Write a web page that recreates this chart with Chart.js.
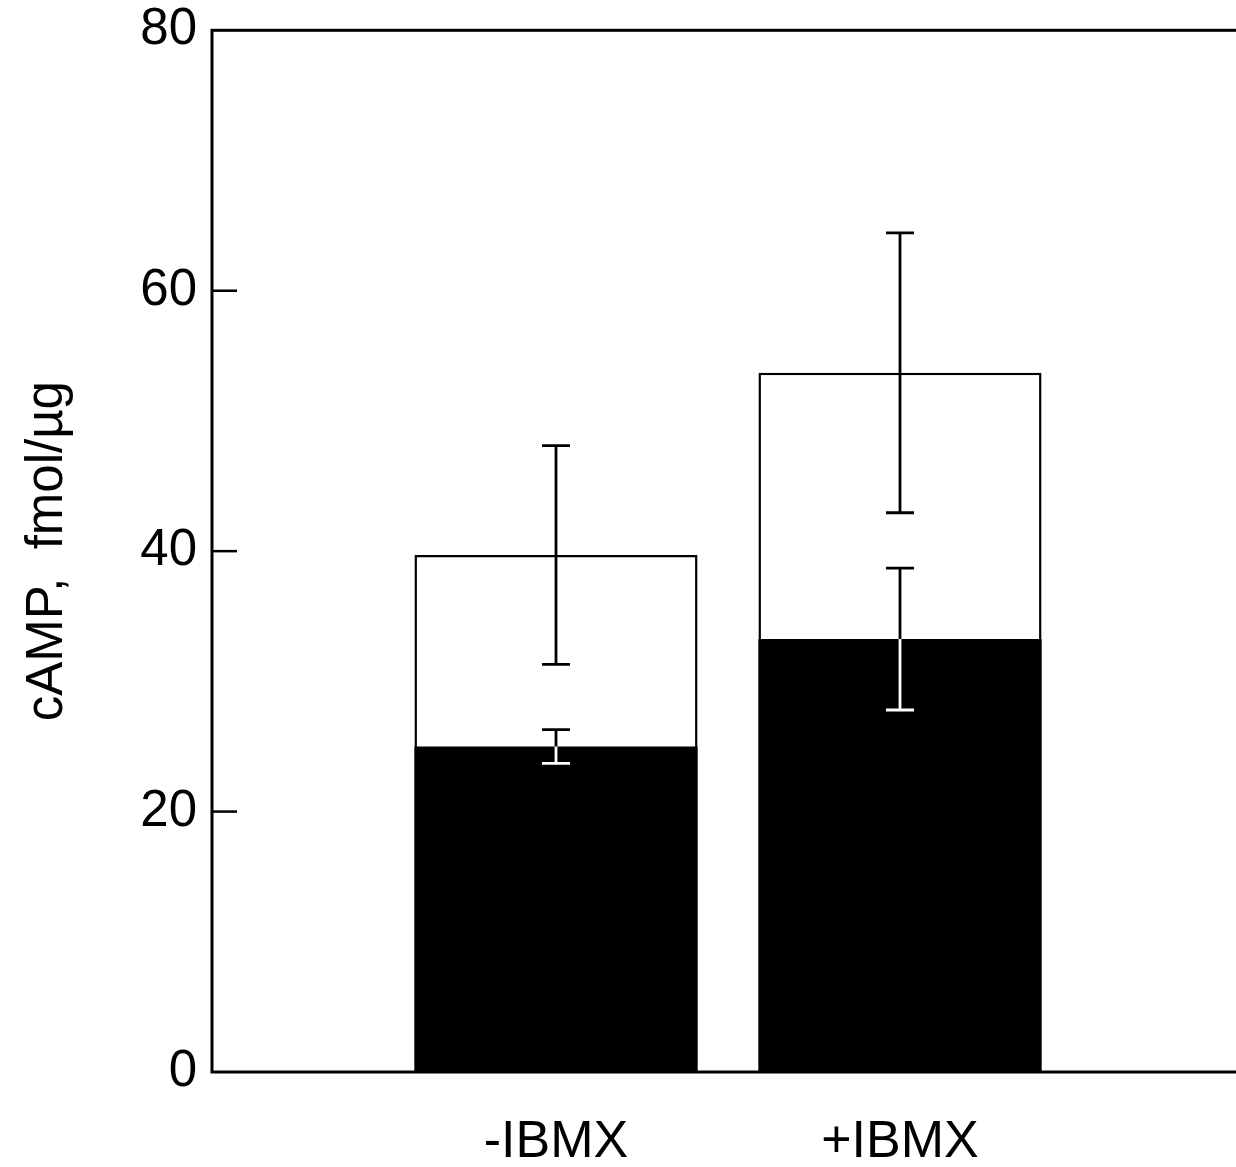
<!DOCTYPE html>
<html>
<head>
<meta charset="utf-8">
<script src="https://cdn.jsdelivr.net/npm/chart.js@4.4.0/dist/chart.umd.min.js"></script>
<style>
  html, body { margin: 0; padding: 0; background: #fff; overflow: hidden; }
  #wrap { width: 1236px; height: 1167px; overflow: hidden; }
  canvas { display: block; }
</style>
</head>
<body>
<div id="wrap"><canvas id="chart" width="1260" height="1167"></canvas></div>
<script>
// categories (empty ones at both ends keep the bars where they sit in the figure)
const labels = ['', '-IBMX', '+IBMX', ''];
// open bars (total) and filled bars, cAMP fmol/ug
const openVals = [null, 39.7, 53.7, null];
const openErr = [null, 8.4, 10.75, null];
const filledVals = [null, 25.0, 33.25, null];
const filledErr = [null, 1.3, 5.45, null];
const yTicks = [0, 20, 40, 60, 80];

const FONT = 'Liberation Sans, Arial, Helvetica, sans-serif';

// white page under the chart, so "difference" below works
const paper = {
  id: 'paper',
  beforeDraw(chart) {
    const c = chart.ctx;
    c.save();
    c.fillStyle = '#fff';
    c.fillRect(0, 0, chart.width, chart.height);
    c.restore();
  }
};

// error bars; the ones on the filled bars use "difference" so they turn white inside black
const errorBars = {
  id: 'errorBars',
  afterDatasetsDraw(chart) {
    const c = chart.ctx;
    const y = chart.scales.y;
    const errs = [filledErr, openErr];
    chart.data.datasets.forEach((ds, di) => {
      const meta = chart.getDatasetMeta(di);
      c.save();
      if (di === 0) {
        c.globalCompositeOperation = 'difference';
        c.strokeStyle = '#fff';
      } else {
        c.strokeStyle = '#000';
      }
      c.lineWidth = 2.8;
      ds.data.forEach((v, i) => {
        if (v == null) return;
        const e = errs[di][i];
        const x = meta.data[i].x;
        const top = y.getPixelForValue(v + e);
        const bot = y.getPixelForValue(v - e);
        c.beginPath();
        c.moveTo(x, top); c.lineTo(x, bot);
        c.moveTo(x - 14, top); c.lineTo(x + 14, top);
        c.moveTo(x - 14, bot); c.lineTo(x + 14, bot);
        c.stroke();
      });
      c.restore();
    });
  }
};

// box round the plot and inward ticks on the y axis
const frame = {
  id: 'frame',
  afterDraw(chart) {
    const c = chart.ctx;
    const a = chart.chartArea;
    const y = chart.scales.y;
    c.save();
    c.strokeStyle = '#000';
    c.lineWidth = 3;
    c.strokeRect(a.left, a.top, a.right - a.left, a.bottom - a.top);
    c.lineWidth = 2.5;
    y.ticks.forEach(t => {
      if (t.value === 0 || t.value === 80) return;
      const py = y.getPixelForValue(t.value);
      c.beginPath();
      c.moveTo(a.left, py);
      c.lineTo(a.left + 25, py);
      c.stroke();
    });
    c.restore();
  }
};

new Chart(document.getElementById('chart'), {
  type: 'bar',
  data: {
    labels: labels,
    datasets: [{
      label: 'filled',
      data: filledVals,
      backgroundColor: '#000',
      borderWidth: 0
    }, {
      label: 'open',
      data: openVals,
      backgroundColor: '#fff',
      borderColor: '#000',
      borderWidth: 2.5
    }]
  },
  options: {
    responsive: false,
    animation: false,
    devicePixelRatio: 1,
    layout: { padding: { top: 0, right: 16, left: 0, bottom: 0 } },
    datasets: { bar: { barPercentage: 0.823, categoryPercentage: 1.0 } },
    plugins: { legend: { display: false }, tooltip: { enabled: false } },
    scales: {
      x: {
        stacked: true,
        offset: false,
        grid: { display: false, drawTicks: false },
        border: { display: false },
        ticks: {
          autoSkip: false,
          maxRotation: 0,
          padding: 0,
          color: '#000',
          font: { family: FONT, size: 52, lineHeight: 2.7 }
        },
        afterFit(s) { s.height = 95; }
      },
      y: {
        stacked: false,
        min: 0,
        max: 80,
        afterBuildTicks(s) { s.ticks = yTicks.map(v => ({ value: v })); },
        grid: { display: false, drawTicks: false },
        border: { display: false },
        ticks: {
          padding: 15,
          color: '#000',
          font: { family: FONT, size: 51, lineHeight: 0.6 }
        },
        title: {
          display: true,
          text: 'cAMP,  fmol/\u00b5g',
          color: '#000',
          font: { family: FONT, size: 51 },
          padding: { top: 17, bottom: 0 }
        },
        afterFit(s) { s.width = 212; }
      }
    }
  },
  plugins: [paper, errorBars, frame]
});
</script>
</body>
</html>
